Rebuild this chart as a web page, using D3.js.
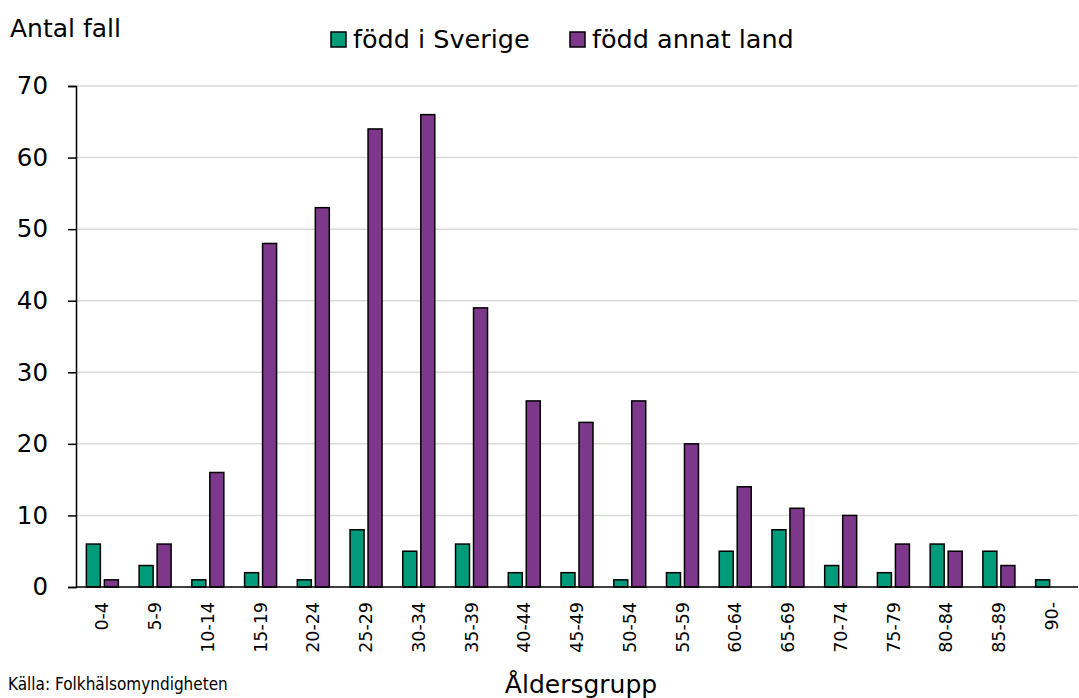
<!DOCTYPE html>
<html><head><meta charset="utf-8">
<script src="https://cdn.jsdelivr.net/npm/d3@7"></script>
<style>body{margin:0;background:#fff}svg{display:block}text{font-family:"DejaVu Sans",Verdana,sans-serif;fill:#000}</style>
</head><body><svg id="c" width="1079" height="698"></svg>
<script>
const categories = ["0-4","5-9","10-14","15-19","20-24","25-29","30-34","35-39","40-44","45-49","50-54","55-59","60-64","65-69","70-74","75-79","80-84","85-89","90-"];
const sverige = [6,3,1,2,1,8,5,6,2,2,1,2,5,8,3,2,6,5,1];
const annat = [1,6,16,48,53,64,66,39,26,23,26,20,14,11,10,6,5,3,0];
const seriesNames = ["född i Sverige","född annat land"];
const colors = ["#009b7b","#7d378b"];
const yTicks = [0,10,20,30,40,50,60,70];

const svg = d3.select("#c");
const x0 = 76, x1 = 1078, yTop = 86, yBot = 587;
const x = d3.scaleBand().domain(categories).range([x0, x1]).paddingInner(0).paddingOuter(0);
const y = d3.scaleLinear().domain([0,70]).range([yBot, yTop]);

// gridlines
svg.append("g").selectAll("line").data(yTicks.filter(d=>d>0)).join("line")
  .attr("x1", x0).attr("x2", x1).attr("y1", d=>y(d)).attr("y2", d=>y(d))
  .attr("stroke", "#d9d9d9").attr("stroke-width", 1.5);

// y axis
const yAxis = d3.axisLeft(y).tickValues(yTicks).tickSize(8).tickPadding(6);
const ga = svg.append("g").attr("transform", `translate(${x0},0)`).call(yAxis);
ga.select(".domain").attr("stroke", "#000").attr("stroke-width", 1.5);
ga.selectAll(".tick line").attr("stroke", "#000").attr("stroke-width", 1.5);
ga.selectAll(".tick text").attr("font-size", 24.5).attr("font-family", "DejaVu Sans").attr("dx", "-14");

const bw = 14, gap = 4;
const data = [sverige, annat];
data.forEach((vals, si) => {
  svg.append("g").selectAll("rect").data(vals.map((v,i)=>({v, c: categories[i]}))).join("rect")
    .filter(d => d.v > 0)
    .attr("x", d => x(d.c) + x.bandwidth()/2 + (si === 0 ? -(bw + gap/2) : gap/2))
    .attr("width", bw)
    .attr("y", d => y(d.v))
    .attr("height", d => y(0) - y(d.v))
    .attr("fill", colors[si]).attr("stroke", "#000").attr("stroke-width", 1.5);
});

// baseline
svg.append("line").attr("x1", x0).attr("x2", x1).attr("y1", y(0)).attr("y2", y(0)).attr("stroke", "#000").attr("stroke-width", 1.5);

// x tick labels
const xAxis = d3.axisBottom(x).tickSize(0).tickPadding(0);
const gx = svg.append("g").attr("transform", `translate(0,${yBot})`).call(xAxis);
gx.select(".domain").remove();
gx.selectAll(".tick text").attr("font-size", 17.5).attr("font-family", "DejaVu Sans")
  .attr("text-anchor", "end").attr("transform", "translate(0,15) rotate(-90)").attr("dy", "0.35em").attr("y", 0);

// titles
svg.append("text").attr("x", 10).attr("y", 37).attr("font-size", 25).text("Antal fall");
svg.append("text").attr("x", 581).attr("y", 693).attr("text-anchor", "middle").attr("font-size", 25).text("Åldersgrupp");
svg.append("text").attr("x", 8).attr("y", 690).attr("font-size", 17)
  .attr("style","font-family:'Liberation Sans Narrow','DejaVu Sans Condensed',sans-serif").text("Källa: Folkhälsomyndigheten");

// legend
const legX = [331, 570];
seriesNames.forEach((n, i) => {
  svg.append("rect").attr("x", legX[i]).attr("y", 32).attr("width", 15).attr("height", 15)
    .attr("fill", colors[i]).attr("stroke", "#000").attr("stroke-width", 1.5);
  svg.append("text").attr("x", legX[i] + 22).attr("y", 48).attr("font-size", 25.5).text(n);
});
</script></body></html>
